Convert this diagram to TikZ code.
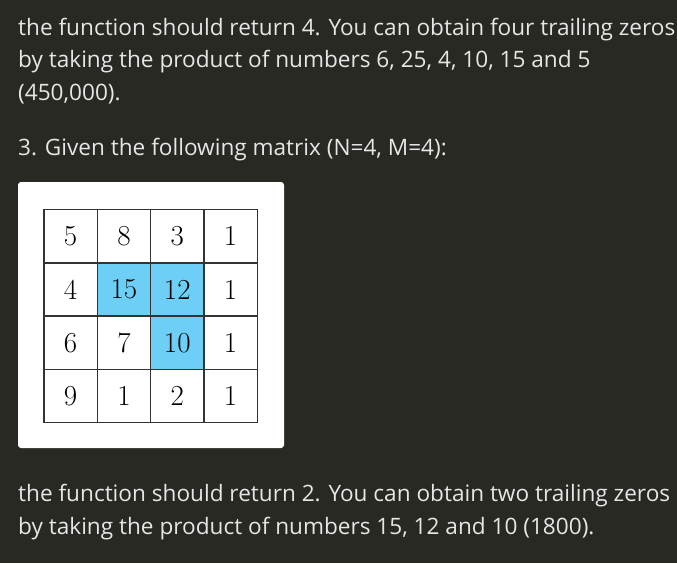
\documentclass[tikz,border=0pt]{standalone}
\usepackage{fontspec}
\usepackage{tikz}
\newfontfamily\prosefont{Open Sans}
\usetikzlibrary{positioning}
\definecolor{pagebg}{HTML}{282923}
\definecolor{prosefg}{HTML}{E6E6E6}
\definecolor{cellblue}{HTML}{6DCFF6}
\tikzset{
        x=1pt, y=-1pt, % one unit is one pixel of the page, y grows downwards
        prose/.style={anchor=base west, inner sep=0pt, text=prosefg, font=\prosefont\fontsize{22.6}{27}\selectfont},
        cell/.style={draw=black!80, line width=1.4pt, minimum size=53.3pt, inner sep=0pt, font=\fontsize{29}{32}\selectfont},
        hot/.style={cell, fill=cellblue},
    }

\begin{document}
\begin{tikzpicture}
    \fill[pagebg] (0,0) rectangle (677,563);
    \useasboundingbox (0,0) rectangle (677,563);

    % text above the matrix
    \node[prose] (line1) at (18,35) {the function should return 4. You can obtain four trailing zeros};
    \node[prose] (line2) at (18,67.6) {by taking the product of numbers 6, 25, 4, 10, 15 and 5};
    \node[prose] (line3) at (18,100.3) {(450,000).};
    \node[prose] (line4) at (18,155) {3. Given the following matrix (N=4, M=4):};

    % the matrix on its white card
    \fill[white, rounded corners=3pt] (18,182) rectangle (284,448);
    \foreach \r/\row in {1/{5,8,3,1}, 2/{4,15,12,1}, 3/{6,7,10,1}, 4/{9,1,2,1}} {
        \foreach \v [count=\c] in \row {
            \node[cell] (c-\r-\c) at ({44+26.65+53.3*(\c-1)}, {209.5+26.65+53.3*(\r-1)}) {\v};
        }
    }
    \node[hot] at (c-2-2) {15};
    \node[hot] at (c-2-3) {12};
    \node[hot] at (c-3-3) {10};

    % text below the matrix
    \node[prose] (line5) at (18,501.7) {the function should return 2. You can obtain two trailing zeros};
    \node[prose] (line6) at (18,534.3) {by taking the product of numbers 15, 12 and 10 (1800).};
\end{tikzpicture}
\end{document}
